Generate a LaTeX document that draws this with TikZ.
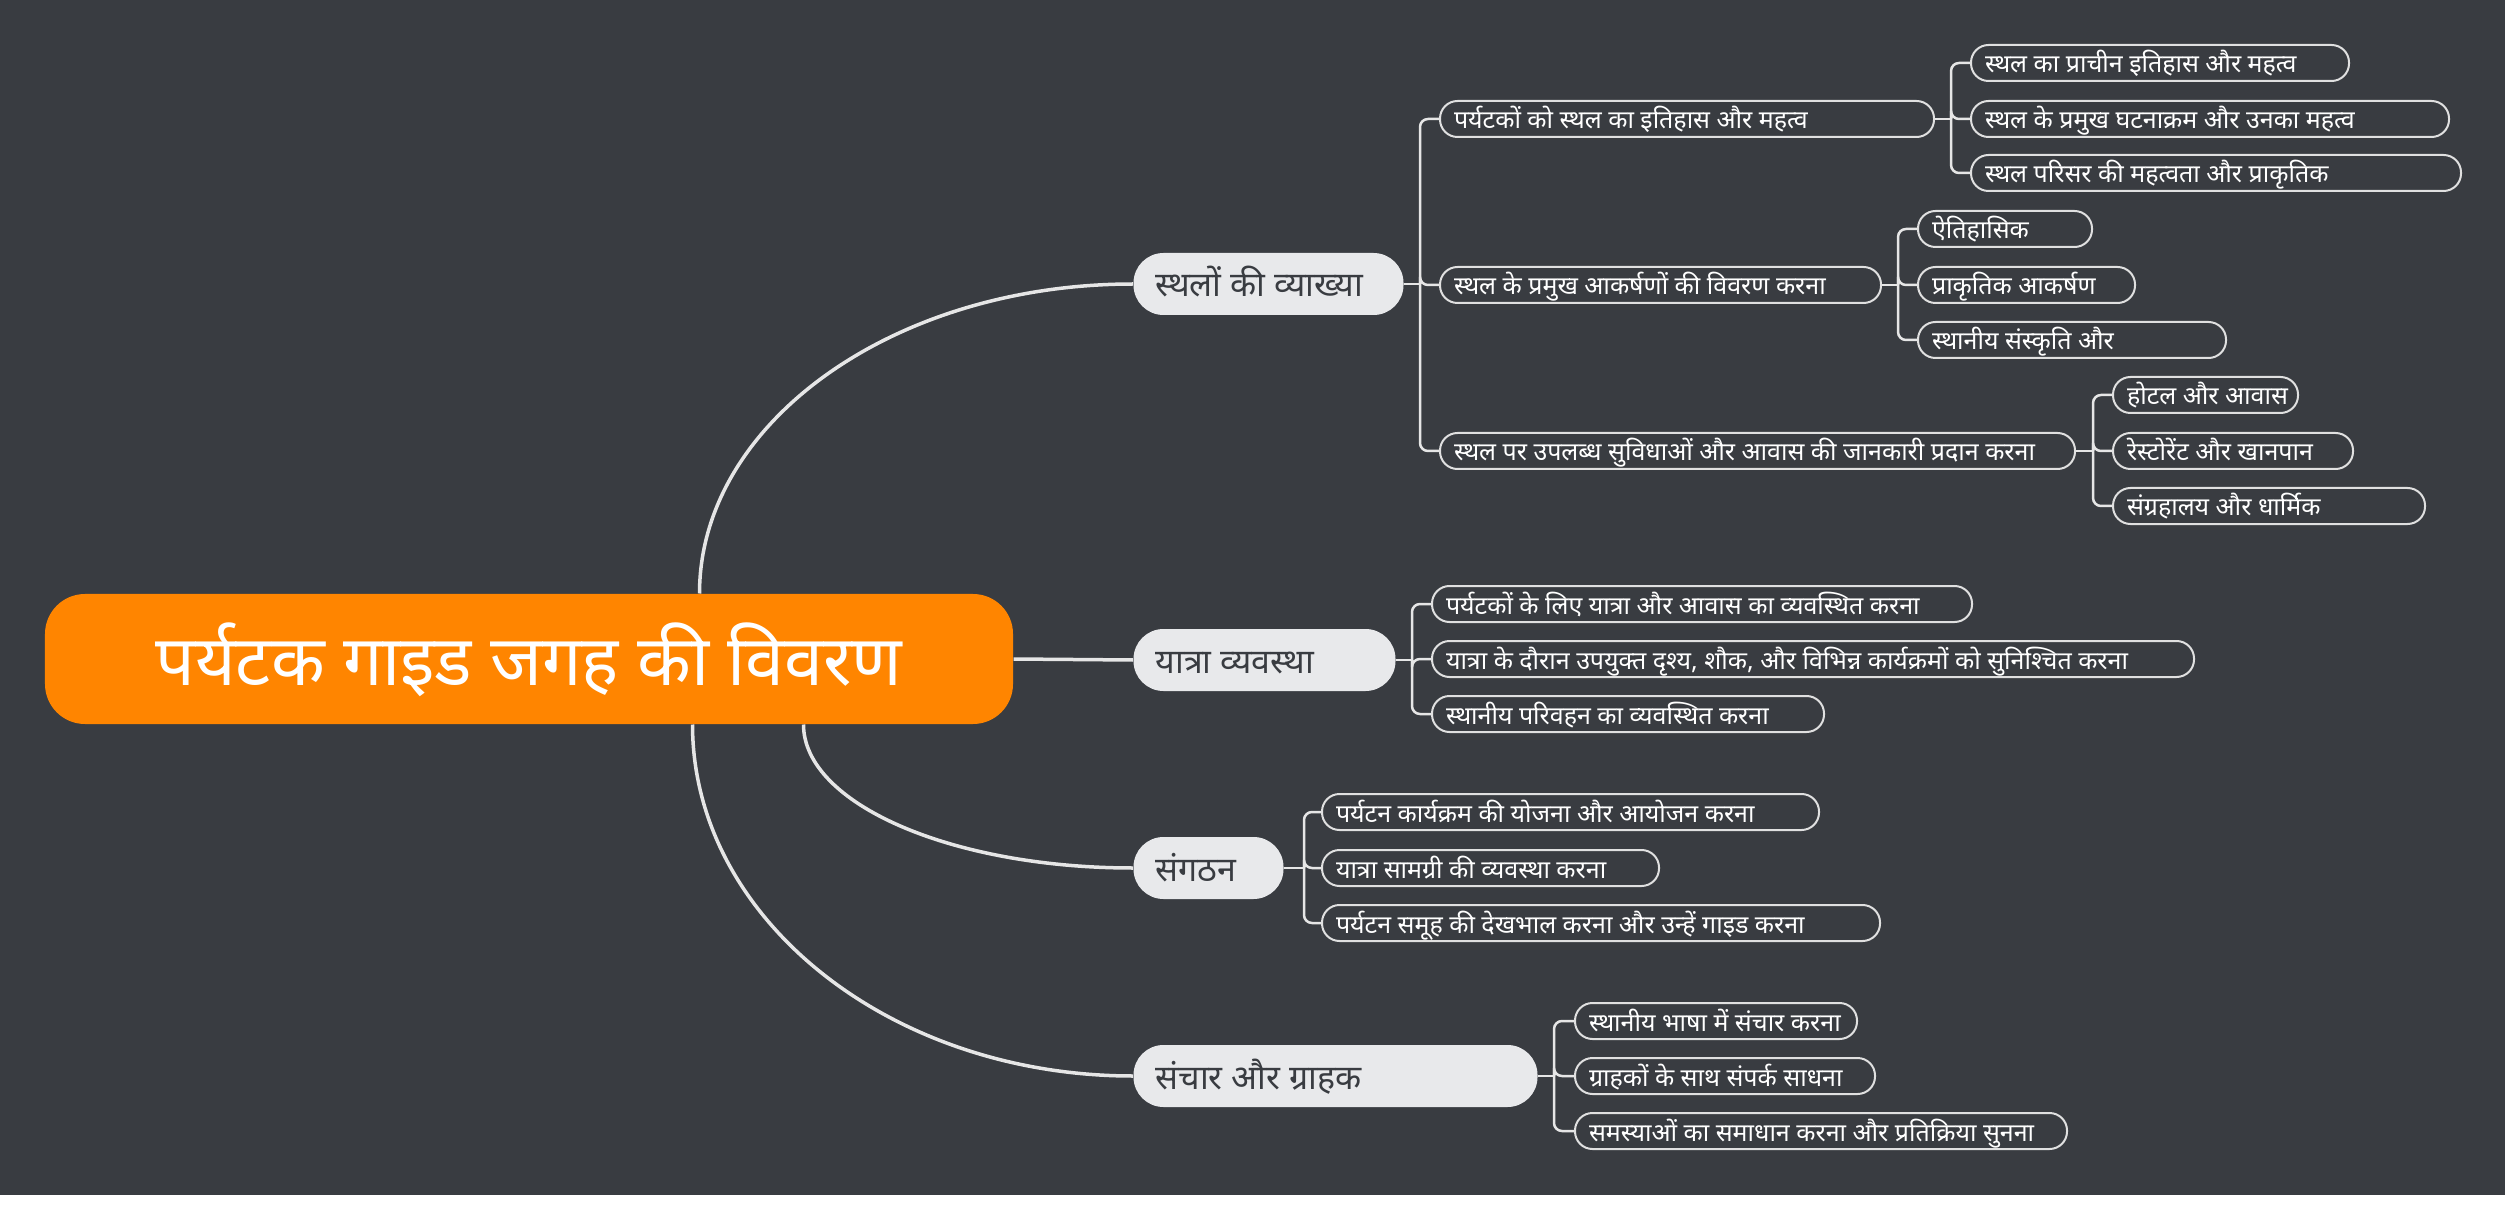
\documentclass[tikz,border=0pt]{standalone}
\usepackage{fontspec}
\newfontfamily\dev[Script=Devanagari]{Noto Sans}
\definecolor{bgc}{HTML}{393C41}
\definecolor{orangec}{HTML}{FF8500}
\definecolor{mainfill}{HTML}{E8E9EB}
\definecolor{linec}{HTML}{E6E6E6}
\definecolor{subline}{HTML}{E0E0E0}
\newcommand\lb[2]{\makebox[#1][l]{#2}}
\begin{document}
\begin{tikzpicture}[x=0.4pt,y=-0.4pt,
  conn/.style={draw=linec, line width=1.4pt},
  subconn/.style={draw=linec, line width=1pt, rounded corners=3.2pt},
  rootbox/.style={fill=orangec, rounded corners=16pt, minimum width=387.2pt, minimum height=52pt, inner sep=0pt, text=white, font=\dev\fontsize{28}{32}\selectfont, text height=21pt, text depth=0pt},
  mainbox/.style={fill=mainfill, rounded corners=12pt, minimum height=24.8pt, inner xsep=8.8pt, inner ysep=0pt, text=bgc, font=\dev\fontsize{13.6}{16}\selectfont, text height=10.4pt, text depth=0pt, anchor=west},
  subbox/.style={draw=subline, line width=0.8pt, fill=bgc, rounded corners=7pt, minimum height=14.4pt, inner xsep=5.6pt, inner ysep=0pt, text=white, font=\dev\fontsize{10}{12}\selectfont, text height=8pt, text depth=0pt, anchor=west},
]
\useasboundingbox (0,0) rectangle (2505,1211);
\fill[white] (0,0) rectangle (2505,1211);
\fill[bgc] (0,0) rectangle (2505,1195);

% root
\node[rootbox] (root) at (529,659) {पर्यटक गाइड जगह की विवरण};

% main branches
\node[mainbox] (m1) at (1133,284) {\lb{90.4pt}{स्थलों की व्याख्या}};
\node[mainbox] (m2) at (1133,660) {\lb{87.2pt}{यात्रा व्यवस्था}};
\node[mainbox] (m3) at (1133,868) {\lb{42.4pt}{संगठन}};
\node[mainbox] (m4) at (1133,1076) {\lb{144pt}{संचार और ग्राहक}};

\coordinate (r1) at ([xshift=262pt]root.north west);
\coordinate (r3) at ([xshift=303.6pt]root.south west);
\coordinate (r4) at ([xshift=259.2pt]root.south west);
\draw[conn] (r1) .. controls +(0,-171) and +(-239,0) .. (m1.west);
\draw[conn] (root.east) -- (m2.west);
\draw[conn] (r3) .. controls +(0,79) and +(-182,0) .. (m3.west);
\draw[conn] (r4) .. controls +(0,194) and +(-243,0) .. (m4.west);

% branch 1 level 2
\node[subbox] (a) at (1439,119) {\lb{186.4pt}{पर्यटकों को स्थल का इतिहास और महत्व}};
\node[subbox] (b) at (1439,285) {\lb{165.2pt}{स्थल के प्रमुख आकर्षणों की विवरण करना}};
\node[subbox] (c) at (1439,451) {\lb{242.8pt}{स्थल पर उपलब्ध सुविधाओं और आवास की जानकारी प्रदान करना}};
% level 3
\node[subbox] (a1) at (1970,63) {\lb{140pt}{स्थल का प्राचीन इतिहास और महत्व}};
\node[subbox] (a2) at (1970,119) {\lb{180pt}{स्थल के प्रमुख घटनाक्रम और उनका महत्व}};
\node[subbox] (a3) at (1970,173) {\lb{184.8pt}{स्थल परिसर की महत्वता और प्राकृतिक}};
\node[subbox] (b1) at (1917,229) {\lb{58.4pt}{ऐतिहासिक}};
\node[subbox] (b2) at (1917,285) {\lb{75.6pt}{प्राकृतिक आकर्षण}};
\node[subbox] (b3) at (1917,340) {\lb{112pt}{स्थानीय संस्कृति और}};
\node[subbox] (c1) at (2112,395) {\lb{62.8pt}{होटल और आवास}};
\node[subbox] (c2) at (2112,451) {\lb{84.8pt}{रेस्टोरेंट और खानपान}};
\node[subbox] (c3) at (2112,506) {\lb{113.6pt}{संग्रहालय और धार्मिक}};

% branch 2
\node[subbox] (d1) at (1431,604) {\lb{204.8pt}{पर्यटकों के लिए यात्रा और आवास का व्यवस्थित करना}};
\node[subbox] (d2) at (1431,659) {\lb{293.6pt}{यात्रा के दौरान उपयुक्त दृश्य, शौक, और विभिन्न कार्यक्रमों को सुनिश्चित करना}};
\node[subbox] (d3) at (1431,714) {\lb{145.6pt}{स्थानीय परिवहन का व्यवस्थित करना}};

% branch 3
\node[subbox] (e1) at (1321,812) {\lb{187.6pt}{पर्यटन कार्यक्रम की योजना और आयोजन करना}};
\node[subbox] (e2) at (1321,868) {\lb{123.6pt}{यात्रा सामग्री की व्यवस्था करना}};
\node[subbox] (e3) at (1321,923) {\lb{212pt}{पर्यटन समूह की देखभाल करना और उन्हें गाइड करना}};

% branch 4
\node[subbox] (f1) at (1574,1021) {\lb{101.6pt}{स्थानीय भाषा में संचार करना}};
\node[subbox] (f2) at (1574,1076) {\lb{108.8pt}{ग्राहकों के साथ संपर्क साधना}};
\node[subbox] (f3) at (1574,1131) {\lb{185.6pt}{समस्याओं का समाधान करना और प्रतिक्रिया सुनना}};

% trunks
\coordinate (t1) at (1420,284);
\draw[subconn] (m1.east) -- (t1);
\foreach \n in {a,b,c} \draw[subconn] (t1) |- (\n.west);
\coordinate (ta) at (1951,119);
\draw[subconn] (a.east) -- (ta);
\foreach \n in {a1,a2,a3} \draw[subconn] (ta) |- (\n.west);
\coordinate (tb) at (1898,285);
\draw[subconn] (b.east) -- (tb);
\foreach \n in {b1,b2,b3} \draw[subconn] (tb) |- (\n.west);
\coordinate (tc) at (2093,451);
\draw[subconn] (c.east) -- (tc);
\foreach \n in {c1,c2,c3} \draw[subconn] (tc) |- (\n.west);
\coordinate (t2) at (1412,660);
\draw[subconn] (m2.east) -- (t2);
\foreach \n in {d1,d2,d3} \draw[subconn] (t2) |- (\n.west);
\coordinate (t3) at (1304,868);
\draw[subconn] (m3.east) -- (t3);
\foreach \n in {e1,e2,e3} \draw[subconn] (t3) |- (\n.west);
\coordinate (t4) at (1554,1076);
\draw[subconn] (m4.east) -- (t4);
\foreach \n in {f1,f2,f3} \draw[subconn] (t4) |- (\n.west);
\end{tikzpicture}
\end{document}
